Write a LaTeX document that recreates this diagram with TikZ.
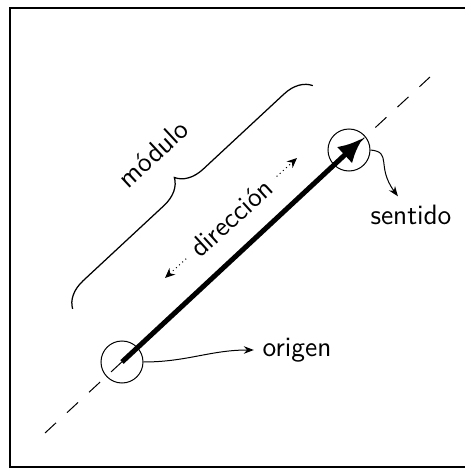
\documentclass[tikz,border=0pt]{standalone}
\usepackage{fontspec}
\usetikzlibrary{arrows.meta, calc, decorations.pathreplacing}

\begin{document}
\begin{tikzpicture}[
    x=0.4pt, y=0.4pt,
    font=\sffamily\fontsize{11.2}{13}\selectfont,
    ring/.style={draw, circle, thin, minimum size=16.8pt, inner sep=0pt},
    axis/.style={thin, dash pattern=on 6pt off 6pt},
    vec/.style={line width=2pt, -{Latex[length=10pt,width=9pt]}},
    note/.style={thin, -{Stealth[length=4pt,width=3pt]}},
    brace/.style={decorate, decoration={brace, amplitude=10.8pt}, line width=0.5pt},
    guide/.style={thin, dash pattern=on 0.4pt off 1.3pt, {Stealth[length=4pt,width=3.5pt]}-{Stealth[length=4pt,width=3.5pt]}}
]
    \useasboundingbox (0,0) rectangle (465,469);
    \draw[line width=0.8pt] (10,2) rectangle (467,461);

    % line of action
    \coordinate (l1) at (45,36);
    \coordinate (l2) at (430,392);
    \draw[axis] (l1) -- (l2);

    % Nodes
    \node[ring] (o) at (122,107) {};
    \node[ring] (s) at (349,319) {};
    \coordinate (t) at (363,331);
    \node (origen) at (297,119) {origen};
    \node (sentido) at (411,254) {sentido};

    % the vector
    \draw[vec] (o.center) -- (t);

    % modulo
    \coordinate (b1) at ($(o.center)!29pt!90:(t)$);
    \coordinate (b2) at ($(t)!29pt!-90:(o.center)$);
    \draw[brace] (b1) -- node[midway, sloped, above=16pt] (modulo) {módulo} (b2);

    % direccion
    \coordinate (d1) at (165,191);
    \coordinate (d2) at (297,311);
    \draw[guide] (d1) -- node[sloped, fill=white, inner sep=3.5pt] (dir) {dirección} (d2);

    % Labels
    \draw[note] (o.east) to[out=0, in=180] (origen.west);
    \draw[note] (s.east) .. controls +(22,-2) and +(-22,30) .. (sentido.125);

\end{tikzpicture}
\end{document}
